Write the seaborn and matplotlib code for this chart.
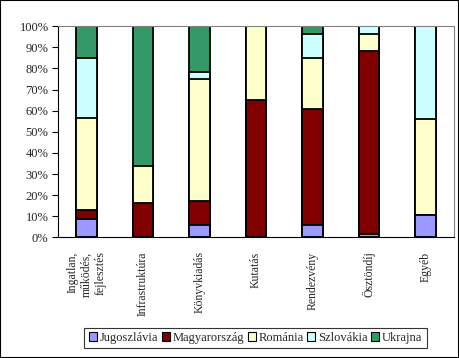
import numpy as np
import seaborn as sns
import matplotlib.pyplot as plt
from matplotlib.patches import Patch, Rectangle

categories = ["Ingatlan,\nműködés,\nfejlesztés", "Infrastruktúra", "Könyvkiadás",
              "Kutatás", "Rendezvény", "Ösztöndíj", "Egyéb"]
series = ["Jugoszlávia", "Magyarország", "Románia", "Szlovákia", "Ukrajna"]
jugoszlavia = [8.7, 0.0, 5.8, 0.0, 6.0, 1.6, 10.7]
magyarorszag = [4.1, 16.4, 11.6, 65.1, 54.9, 86.7, 0.0]
romania = [43.8, 17.5, 57.8, 34.9, 24.1, 8.2, 45.5]
szlovakia = [28.3, 0.0, 2.9, 0.0, 11.5, 3.5, 43.8]
ukrajna = [15.1, 66.1, 21.9, 0.0, 3.5, 0.0, 0.0]
colors = ["#9999FF", "#800000", "#FFFFCC", "#CCFFFF", "#339966"]

sns.set_theme(style="white")
plt.rcParams["font.family"] = ["Liberation Serif", "DejaVu Serif"]

values = np.array([jugoszlavia, magyarorszag, romania, szlovakia, ukrajna])
shares = values / values.sum(axis=0)
cum = np.cumsum(shares, axis=0)

fig = plt.figure(figsize=(4.59, 3.58), dpi=100)
ax = fig.add_axes([0.127, 0.3366, 0.8615, 0.5904])

# draw from the top segment down so each shorter cumulative bar covers the previous one
xs = np.arange(len(categories))
for i in range(len(series) - 1, -1, -1):
    sns.barplot(x=xs, y=cum[i], color=colors[i], saturation=1, width=0.37,
                edgecolor="black", linewidth=1.3, errorbar=None, ax=ax)

ax.set_xlim(-0.5, len(categories) - 0.5)
ax.set_ylim(0, 1)
ax.set_yticks(np.linspace(0, 1, 11))
ax.set_yticklabels([f"{int(round(v * 100))}%" for v in np.linspace(0, 1, 11)], fontsize=9)
ax.set_xticks(xs)
ax.set_xticklabels(categories, rotation=90, fontsize=8.5, va="top", ha="center",
                   multialignment="right")
ax.set_xticks(np.arange(-0.5, len(categories), 1), minor=True)
ax.tick_params(axis="x", which="major", length=0, pad=10)
ax.tick_params(axis="x", which="minor", length=4, width=0.8, color="black", direction="out")
ax.tick_params(axis="y", length=4, width=0.8, color="black", direction="out", pad=3,
               left=True)
ax.set_xlabel("")
ax.set_ylabel("")
for side in ["left", "bottom"]:
    ax.spines[side].set_color("black")
    ax.spines[side].set_linewidth(0.8)
for side in ["top", "right"]:
    ax.spines[side].set_color("#808080")
    ax.spines[side].set_linewidth(0.8)

handles = [Patch(facecolor=c, edgecolor="black", linewidth=0.8) for c in colors]
leg = fig.legend(handles, series, loc="center", bbox_to_anchor=(255.5 / 459, 1 - 338 / 358),
                 ncol=5, fontsize=9, frameon=True, fancybox=False, handlelength=0.65,
                 handleheight=0.65, handletextpad=0.2, columnspacing=0.3, borderpad=0.35,
                 borderaxespad=0)
leg.get_frame().set_edgecolor("black")
leg.get_frame().set_linewidth(0.8)

fig.patches.append(Rectangle((0, 0), 1, 1, transform=fig.transFigure, fill=False,
                             edgecolor="black", linewidth=1.5))

fig.savefig("out.png", dpi=100, facecolor="white")
